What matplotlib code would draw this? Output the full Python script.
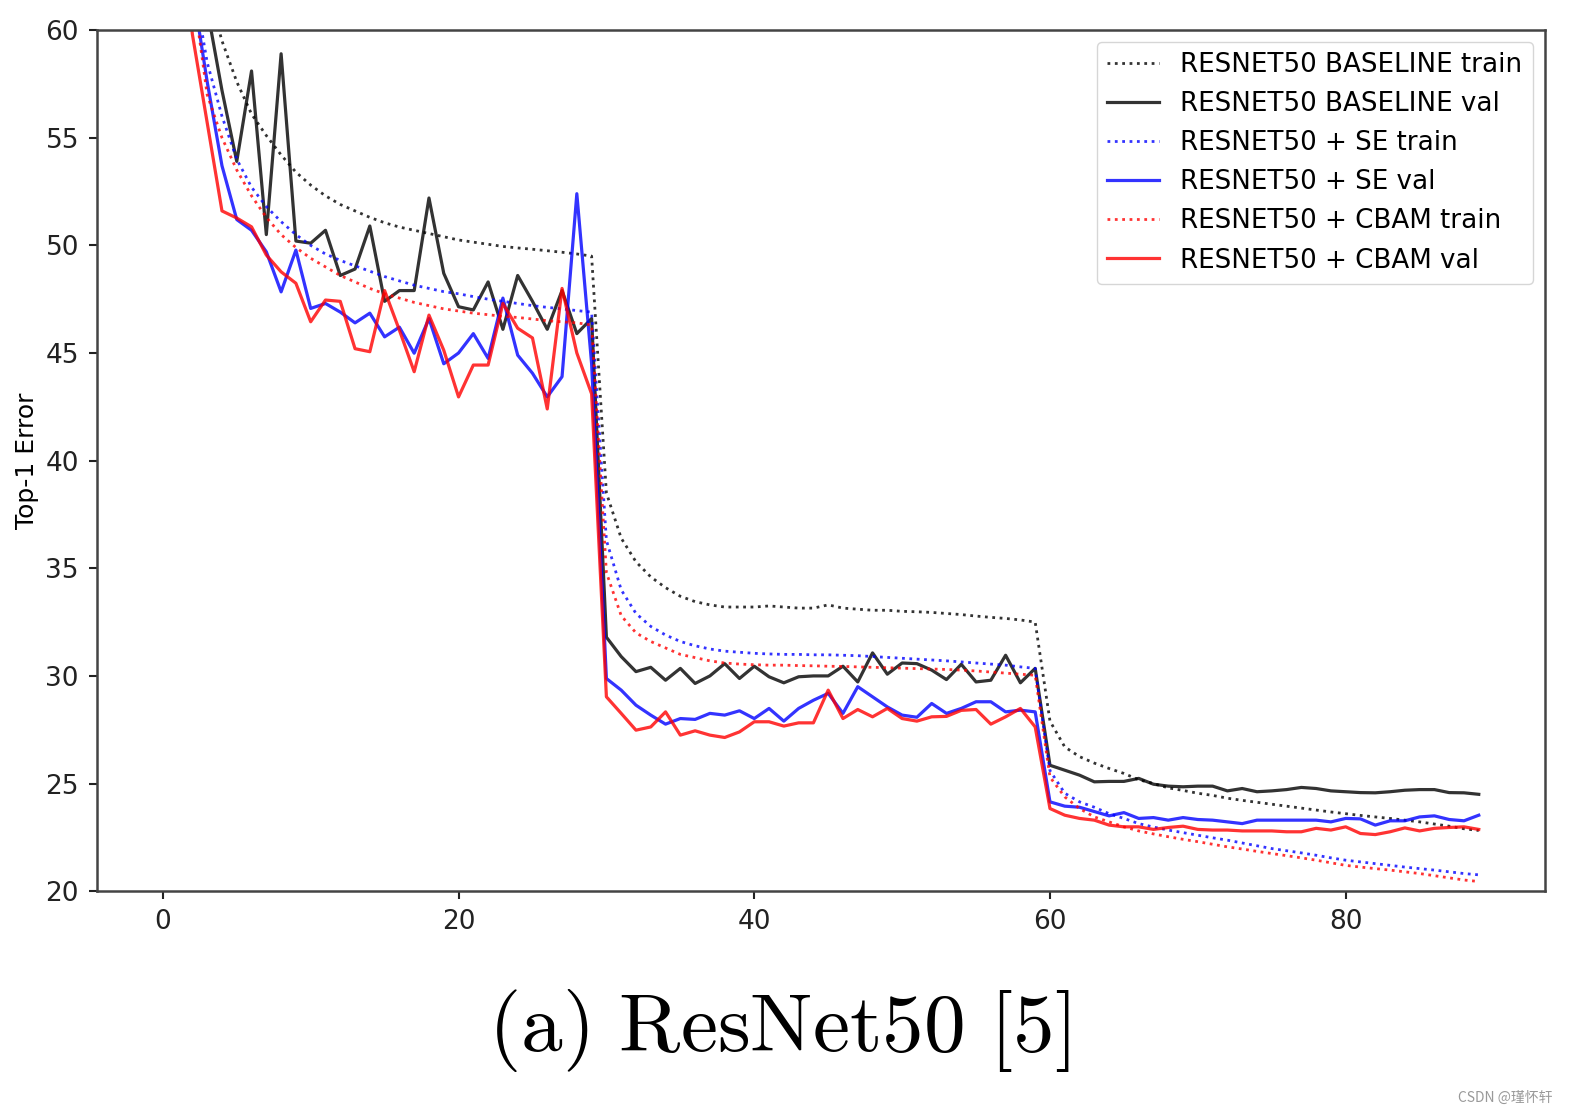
import matplotlib
matplotlib.use("Agg")
import matplotlib.pyplot as plt

# epochs 0..89, top-1 error (%)
epochs = list(range(90))

baseline_train = [85, 75, 67, 62, 59.5, 57.6, 56.1, 55.1, 54.2, 53.4,
                  52.8, 52.3, 51.9, 51.6, 51.3, 51.05, 50.85, 50.7, 50.55, 50.4,
                  50.25, 50.15, 50.05, 49.95, 49.88, 49.82, 49.75, 49.68, 49.6, 49.5,
                  38.5, 36.4, 35.3, 34.6, 34.1, 33.7, 33.45, 33.3, 33.2, 33.2,
                  33.2, 33.25, 33.2, 33.15, 33.15, 33.3, 33.15, 33.1, 33.05, 33.05,
                  33.0, 32.98, 32.95, 32.9, 32.85, 32.78, 32.72, 32.67, 32.6, 32.5,
                  27.9, 26.7, 26.25, 25.95, 25.7, 25.47, 25.18, 25.0, 24.8, 24.68,
                  24.55, 24.45, 24.32, 24.22, 24.13, 24.04, 23.95, 23.86, 23.77, 23.68,
                  23.6, 23.52, 23.45, 23.38, 23.3, 23.22, 23.12, 23.02, 22.9, 22.82]

baseline_val = [80, 72, 66, 61, 57.2, 53.9, 58.1, 50.5, 58.9, 50.2,
                50.1, 50.7, 48.6, 48.9, 50.9, 47.4, 47.9, 47.9, 52.2, 48.7,
                47.15, 47.0, 48.3, 46.1, 48.6, 47.4, 46.1, 47.9, 45.9, 46.6,
                31.8, 30.9, 30.2, 30.4, 29.8, 30.35, 29.65, 30.0, 30.57, 29.88,
                30.45, 29.96, 29.68, 29.96, 30.0, 30.0, 30.45, 29.72, 31.07, 30.08,
                30.6, 30.57, 30.27, 29.83, 30.54, 29.72, 29.8, 30.96, 29.68, 30.35,
                25.85, 25.62, 25.39, 25.08, 25.1, 25.1, 25.24, 24.97, 24.88, 24.85,
                24.88, 24.88, 24.66, 24.77, 24.62, 24.66, 24.72, 24.82, 24.77, 24.66,
                24.62, 24.58, 24.57, 24.62, 24.69, 24.72, 24.72, 24.58, 24.57, 24.5]

se_train = [80, 70, 62.5, 58.5, 56.0, 54.0, 52.7, 51.8, 51.1, 50.5,
            50.0, 49.6, 49.3, 49.05, 48.8, 48.55, 48.35, 48.15, 48.0, 47.85,
            47.75, 47.62, 47.5, 47.4, 47.3, 47.2, 47.12, 47.05, 46.97, 46.9,
            36.3, 34.0, 32.9, 32.3, 31.9, 31.6, 31.4, 31.25, 31.15, 31.1,
            31.05, 31.02, 31.0, 31.0, 30.98, 30.98, 30.96, 30.94, 30.9, 30.86,
            30.82, 30.78, 30.74, 30.7, 30.65, 30.6, 30.55, 30.5, 30.42, 30.35,
            25.6, 24.55, 24.15, 23.9, 23.6, 23.38, 23.14, 22.98, 22.84, 22.72,
            22.6, 22.48, 22.37, 22.24, 22.11, 21.98, 21.88, 21.78, 21.67, 21.55,
            21.44, 21.36, 21.28, 21.2, 21.12, 21.05, 20.98, 20.9, 20.82, 20.76]

se_val = [75, 68, 62, 57.6, 53.7, 51.2, 50.7, 49.7, 47.84, 49.78,
          47.07, 47.3, 46.9, 46.4, 46.85, 45.75, 46.2, 44.99, 46.6, 44.5,
          45.0, 45.9, 44.75, 47.55, 44.9, 44.06, 42.96, 43.9, 52.4, 44.5,
          29.88, 29.34, 28.64, 28.18, 27.76, 28.02, 27.98, 28.26, 28.18, 28.38,
          28.02, 28.49, 27.9, 28.49, 28.87, 29.19, 28.26, 29.5, 29.03, 28.56,
          28.18, 28.08, 28.72, 28.26, 28.49, 28.8, 28.8, 28.33, 28.41, 28.33,
          24.15, 23.95, 23.9, 23.7, 23.5, 23.65, 23.38, 23.42, 23.3, 23.42,
          23.33, 23.3, 23.22, 23.14, 23.3, 23.3, 23.3, 23.3, 23.3, 23.22,
          23.38, 23.36, 23.07, 23.27, 23.27, 23.45, 23.5, 23.33, 23.27, 23.53]

cbam_train = [78, 68, 62, 57.0, 55.0, 53.5, 52.3, 51.3, 50.5, 49.9,
              49.4, 49.0, 48.6, 48.3, 48.0, 47.75, 47.55, 47.35, 47.2, 47.05,
              46.95, 46.85, 46.78, 46.7, 46.65, 46.58, 46.5, 46.45, 46.4, 46.3,
              34.8, 32.8, 32.0, 31.6, 31.3, 31.0, 30.85, 30.7, 30.6, 30.55,
              30.52, 30.5, 30.5, 30.48, 30.47, 30.45, 30.44, 30.42, 30.4, 30.38,
              30.36, 30.34, 30.32, 30.3, 30.27, 30.23, 30.18, 30.13, 30.08, 30.03,
              25.3, 24.38, 23.84, 23.45, 23.22, 22.99, 22.8, 22.66, 22.53, 22.41,
              22.3, 22.18, 22.06, 21.96, 21.85, 21.75, 21.65, 21.55, 21.44, 21.32,
              21.2, 21.12, 21.05, 20.98, 20.9, 20.82, 20.72, 20.62, 20.52, 20.45]

cbam_val = [72, 66, 59.8, 55.7, 51.6, 51.27, 50.86, 49.55, 48.77, 48.24,
            46.45, 47.46, 47.4, 45.2, 45.06, 47.9, 46.06, 44.13, 46.76, 45.13,
            42.96, 44.44, 44.44, 47.3, 46.15, 45.7, 42.4, 48.0, 45.0, 43.1,
            29.03, 28.26, 27.48, 27.63, 28.33, 27.25, 27.45, 27.25, 27.14, 27.4,
            27.87, 27.87, 27.67, 27.82, 27.82, 29.34, 28.02, 28.44, 28.1, 28.49,
            28.02, 27.9, 28.1, 28.12, 28.4, 28.44, 27.76, 28.1, 28.49, 27.63,
            23.84, 23.53, 23.38, 23.3, 23.07, 22.99, 22.99, 22.87, 22.96, 23.02,
            22.87, 22.84, 22.84, 22.8, 22.8, 22.8, 22.76, 22.76, 22.92, 22.84,
            22.99, 22.68, 22.63, 22.76, 22.94, 22.8, 22.92, 22.96, 22.99, 22.87]

plt.rcParams['mathtext.fontset'] = 'cm'

fig = plt.figure(figsize=(15.7, 11.14), dpi=100)
ax = fig.add_axes([0.0618, 0.2, 0.922, 0.773])

ax.plot(epochs, baseline_train, ':', color='black', alpha=0.8, lw=2, label='RESNET50 BASELINE train')
ax.plot(epochs, baseline_val, '-', color='black', alpha=0.8, lw=2.3, label='RESNET50 BASELINE val')
ax.plot(epochs, se_train, ':', color='blue', alpha=0.8, lw=2, label='RESNET50 + SE train')
ax.plot(epochs, se_val, '-', color='blue', alpha=0.8, lw=2.3, label='RESNET50 + SE val')
ax.plot(epochs, cbam_train, ':', color='red', alpha=0.8, lw=2, label='RESNET50 + CBAM train')
ax.plot(epochs, cbam_val, '-', color='red', alpha=0.8, lw=2.3, label='RESNET50 + CBAM val')

ax.set_ylim(20, 60)
ax.set_xticks([0, 20, 40, 60, 80])
ax.set_yticks([20, 25, 30, 35, 40, 45, 50, 55, 60])
ax.set_ylabel('Top-1 Error', fontsize=18, labelpad=5)
ax.tick_params(axis='both', direction='out', length=6, width=1.5, pad=7,
               labelsize=19, colors='#222222')
ax.tick_params(top=False, right=False)
for sp in ax.spines.values():
    sp.set_linewidth(1.8)
    sp.set_color('#444444')

leg = ax.legend(loc='upper right', fontsize=18.8, labelspacing=0.5, fancybox=True,
                framealpha=0.8, edgecolor='#cccccc', borderaxespad=0.45)

fig.text(0.496, 0.075, r'$\mathrm{(a)\ ResNet50\ [5]}$', fontsize=60,
         ha='center', va='center')
fig.text(0.989, 0.015, 'CSDN @瑾怀轩', fontsize=10, color='#999999',
         ha='right', va='center', family=['Noto Sans CJK SC', 'DejaVu Sans'])

fig.savefig('out.png', dpi=100)
